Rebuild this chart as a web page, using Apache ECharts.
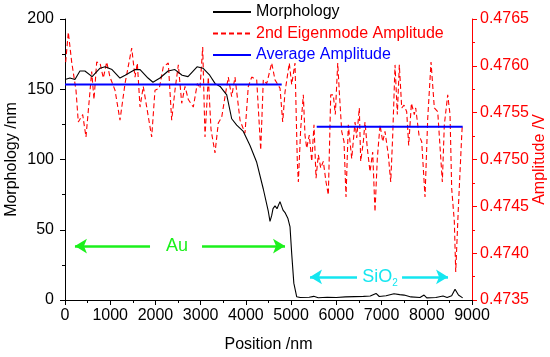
<!DOCTYPE html>
<html>
<head>
<meta charset="utf-8">
<script src="https://cdn.jsdelivr.net/npm/echarts@6/dist/echarts.min.js"></script>
<style>html,body{margin:0;padding:0;background:#fff}#c{width:550px;height:357px}</style>
</head>
<body>
<div id="c"></div>
<script>
// Morphology (nm) vs position (nm)
const morphPos = [0,110,220,330,440,600,775,885,1040,1215,1330,1550,1660,1835,1945,2100,2280,2430,2590,2720,2920,3050,3200,3320,3430,3576,3686,3797,3943,4091,4239,4385,4496,4533,4570,4600,4644,4688,4754,4821,4870,4930,4976,5013,5060,5124,5200,5400,5500,5600,5800,6000,6200,6400,6600,6750,6878,6950,7100,7275,7400,7500,7650,7850,7940,8000,8200,8360,8450,8550,8625,8700,8794];
const morphVal = [157,158,157,163,163,159,165,166,164,158,160,164,164,158,155,158,163,164,160,159,166,165,160,154,152,146,129,124.5,120,110,98,79,63,56,60,65,67,65,70,64,62,58,52,33,12,2.3,1.8,2.0,2.6,1.6,2.0,1.8,2.2,2.4,2.6,2.8,4.7,2.5,3,4.5,3.8,3.5,2.2,1.8,3.5,1.5,1.8,2.8,1.8,3,7.6,3.5,1.5];

// 2nd eigenmode amplitude (V) vs position (nm)
const ampPos = [15,73,148,243,294,391,464,537,590,641,701,774,847,922,995,1106,1216,1327,1475,1548,1599,1659,1731,1807,1917,1990,2085,2174,2284,2359,2432,2506,2581,2654,2727,2837,2926,2985,3045,3096,3169,3229,3317,3390,3465,3538,3611,3686,3759,3870,3980,4053,4129,4239,4328,4385,4460,4571,4644,4755,4814,4865,4960,5013,5086,5137,5160,5212,5270,5307,5345,5402,5456,5506,5551,5602,5655,5712,5772,5823,5876,5933,5977,6031,6066,6119,6170,6214,6265,6340,6413,6451,6508,6539,6597,6634,6685,6745,6804,6855,6906,6966,7026,7076,7149,7203,7247,7298,7349,7393,7446,7497,7556,7600,7660,7724,7755,7828,7888,7961,8021,8094,8167,8242,8344,8388,8463,8514,8551,8609,8640,8698,8773,8786];
const ampVal = [0.47604,0.47636,0.47604,0.47574,0.47540,0.47548,0.47524,0.47564,0.47594,0.47564,0.47604,0.47603,0.47587,0.47604,0.47588,0.47574,0.47542,0.47581,0.47619,0.47588,0.47603,0.47556,0.47578,0.47556,0.47524,0.47574,0.47576,0.47599,0.47603,0.47542,0.47574,0.47601,0.47560,0.47578,0.47564,0.47556,0.47581,0.47576,0.47620,0.47524,0.47588,0.47532,0.47507,0.47539,0.47545,0.47567,0.47588,0.47567,0.47588,0.47542,0.47528,0.47578,0.47588,0.47585,0.47510,0.47585,0.47581,0.47603,0.47585,0.47576,0.47540,0.47572,0.47603,0.47580,0.47603,0.47498,0.47476,0.47533,0.47569,0.47526,0.47512,0.47526,0.47498,0.47537,0.47480,0.47505,0.47491,0.47498,0.47476,0.47462,0.47569,0.47569,0.47548,0.47603,0.47572,0.47530,0.47519,0.47460,0.47537,0.47501,0.47540,0.47523,0.47555,0.47498,0.47519,0.47540,0.47512,0.47487,0.47508,0.47444,0.47501,0.47537,0.47519,0.47530,0.47505,0.47476,0.47526,0.47601,0.47548,0.47601,0.47555,0.47558,0.47551,0.47515,0.47560,0.47548,0.47555,0.47526,0.47519,0.47460,0.47544,0.47604,0.47555,0.47551,0.47476,0.47537,0.47569,0.47548,0.47469,0.47434,0.47380,0.47448,0.47526,0.47537];

// Average amplitude segments: [startPos, endPos, value]
const avgSegments = [[0, 4792, 0.47580], [5566, 8794, 0.47535]];

// Region annotations: label, text position, arrow from/to positions, height (morphology units)
const auRegion = {label: 'Au', center: 2475, leftArrow: [1880, 220], rightArrow: [3030, 4865], y: 38.4};
const sioRegion = {label: 'SiO₂', center: 6966, leftArrow: [6457, 5418], rightArrow: [7453, 8470], y: 16.4};

const xTicks = {min: 0, max: 9000, interval: 1000};
const yLeftTicks = {min: 0, max: 200, interval: 50};
const yRightTicks = {min: 0.4735, max: 0.4765, interval: 0.0005};

const FONT = 'Liberation Sans, Arial, sans-serif';
const GREEN = '#1cf01c', CYAN = '#14e6f0';

const morphData = morphPos.map((p, i) => [p, morphVal[i]]);
const ampData = ampPos.map((p, i) => [p, ampVal[i]]);
const avgData = [];
avgSegments.forEach((s, i) => {
  if (i > 0) avgData.push([(avgSegments[i-1][1] + s[0]) / 2, '-']);
  avgData.push([s[0], s[2]], [s[1], s[2]]);
});

function arrowLines(r, color) {
  return [
    [{coord: [r.leftArrow[0], r.y], lineStyle: {color: color}}, {coord: [r.leftArrow[1], r.y]}],
    [{coord: [r.rightArrow[0], r.y], lineStyle: {color: color}}, {coord: [r.rightArrow[1], r.y]}]
  ];
}

const chart = echarts.init(document.getElementById('c'), null, {renderer: 'canvas'});
chart.setOption({
  animation: false,
  textStyle: {fontFamily: FONT},
  grid: {left: 65, right: 78, top: 19, bottom: 57, containLabel: false, outerBoundsMode: 'none'},
  legend: {
    orient: 'vertical', left: 212, top: 4, padding: 0,
    itemWidth: 38, itemHeight: 14, itemGap: 5.5, itemTextGap: 4,
    itemStyle: {opacity: 0},
    textStyle: {fontSize: 16, fontFamily: FONT},
    data: [
      {name: 'Morphology', textStyle: {color: '#000'}},
      {name: '2nd Eigenmode Amplitude', textStyle: {color: '#ff0000'}},
      {name: 'Average Amplitude', textStyle: {color: '#0000ff'}}
    ]
  },
  xAxis: {
    type: 'value', min: xTicks.min, max: xTicks.max, interval: xTicks.interval,
    name: 'Position /nm', nameLocation: 'middle', nameGap: 37, nameMoveOverlap: false,
    nameTextStyle: {fontSize: 16, color: '#000', fontFamily: FONT},
    axisLine: {lineStyle: {color: '#000', width: 1}},
    axisTick: {length: 5, lineStyle: {color: '#000'}},
    minorTick: {show: true, splitNumber: 2, length: 3, lineStyle: {color: '#000'}},
    axisLabel: {fontSize: 16, color: '#000', margin: 8, fontFamily: FONT, formatter: v => String(v)},
    splitLine: {show: false}
  },
  yAxis: [{
    type: 'value', min: yLeftTicks.min, max: yLeftTicks.max, interval: yLeftTicks.interval,
    name: 'Morphology /nm', nameLocation: 'middle', nameGap: 45, nameRotate: 90, nameMoveOverlap: false,
    nameTextStyle: {fontSize: 16, color: '#000', fontFamily: FONT},
    axisLine: {show: true, lineStyle: {color: '#000', width: 1}},
    axisTick: {show: true, length: 5, lineStyle: {color: '#000'}},
    minorTick: {show: true, splitNumber: 2, length: 3, lineStyle: {color: '#000'}},
    axisLabel: {fontSize: 16, color: '#000', margin: 11, fontFamily: FONT, formatter: v => String(v)},
    splitLine: {show: false}
  }, {
    type: 'value', position: 'right', min: yRightTicks.min, max: yRightTicks.max, interval: yRightTicks.interval,
    name: 'Amplitude /V', nameLocation: 'middle', nameGap: 60, nameRotate: 90, nameMoveOverlap: false,
    nameTextStyle: {fontSize: 16, color: '#ff0000', fontFamily: FONT},
    axisLine: {show: true, lineStyle: {color: '#ff0000', width: 1}},
    axisTick: {show: true, length: 5, lineStyle: {color: '#ff0000'}},
    minorTick: {show: true, splitNumber: 2, length: 3, lineStyle: {color: '#ff0000'}},
    axisLabel: {fontSize: 16, color: '#ff0000', margin: 8, fontFamily: FONT,
      formatter: v => v.toFixed(4)},
    splitLine: {show: false}
  }],
  series: [{
    name: 'Morphology', type: 'line', yAxisIndex: 0, data: morphData,
    symbol: 'none', color: '#000', z: 4,
    lineStyle: {color: '#000', width: 1.1},
    markLine: {
      silent: true, symbol: ['none', 'arrow'], symbolSize: [11, 12], label: {show: false},
      lineStyle: {type: 'solid', width: 2.5},
      data: arrowLines(auRegion, GREEN).concat(arrowLines(sioRegion, CYAN))
    },
    markPoint: {
      silent: true, symbol: 'circle', symbolSize: 1, itemStyle: {color: 'transparent'},
      data: [
        {coord: [auRegion.center, auRegion.y], label: {show: true, position: 'inside', formatter: auRegion.label, color: GREEN, fontSize: 18, fontFamily: FONT}},
        {coord: [sioRegion.center, sioRegion.y], label: {show: true, position: 'inside', formatter: '{a|SiO}{b|2}', fontFamily: FONT,
          rich: {a: {color: CYAN, fontSize: 18, fontFamily: FONT, lineHeight: 22}, b: {color: CYAN, fontSize: 10, fontFamily: FONT, padding: [12, 0, 0, 0], lineHeight: 22}}}}
      ]
    }
  }, {
    name: '2nd Eigenmode Amplitude', type: 'line', yAxisIndex: 1, data: ampData,
    symbol: 'none', color: '#ff0000', z: 3,
    lineStyle: {color: '#ff0000', width: 1.1, type: [5, 3]}
  }, {
    name: 'Average Amplitude', type: 'line', yAxisIndex: 1, data: avgData,
    symbol: 'none', color: '#0000ff', connectNulls: false, z: 5,
    lineStyle: {color: '#0000ff', width: 2}
  }]
});
</script>
</body>
</html>
